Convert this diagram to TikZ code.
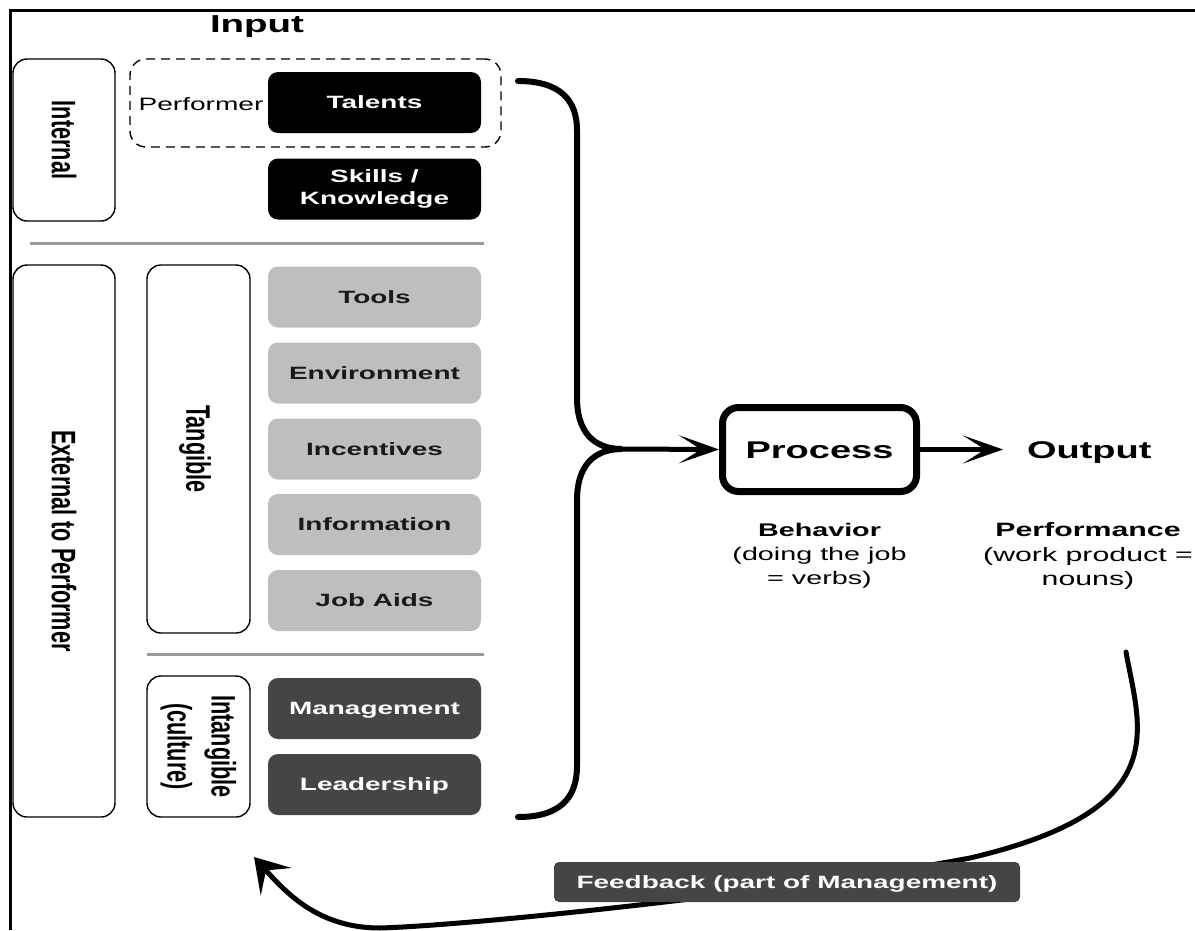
\documentclass[tikz,border=0pt]{standalone}
\usepackage{fontspec}
% wide face for horizontal labels, narrow face for the turned side labels
\setmainfont{Liberation Sans}[FakeStretch=1.57]
\newfontfamily\sidefont{Liberation Sans}[FakeStretch=0.637]
\usetikzlibrary{arrows.meta,calc}
\definecolor{lightbox}{HTML}{BEBEBE}
\definecolor{darkbox}{HTML}{454545}
\definecolor{rulegray}{HTML}{9A9A9A}
\begin{document}
\begin{tikzpicture}[x=1pt,y=-1pt,
  every node/.style={inner sep=0pt, outer sep=0pt},
  frame/.style={line width=3pt, draw=black},
  item/.style={rounded corners=10pt, minimum width=213pt, minimum height=61pt,
    font=\fontsize{17.8}{22}\selectfont\bfseries},
  oneline/.style={text height=12.8pt, text depth=0pt},
  talent/.style={item, fill=black, text=white},
  tangi/.style={item, oneline, fill=lightbox, text=black!90},
  culture/.style={item, oneline, fill=darkbox, text=white},
  sidebox/.style={draw=black, line width=1.4pt, rounded corners=14pt, rotate=-90,
    font=\sidefont\fontsize{34}{44}\selectfont\bfseries},
  sidetext/.style={sidebox, text height=24.5pt, text depth=0pt},
  rule/.style={draw=rulegray, line width=3pt},
  groupbox/.style={draw=black, line width=1.4pt, dash pattern=on 9pt off 6pt, rounded corners=16pt},
  brace/.style={line width=6pt, line cap=round},
  flow/.style={line width=5pt, -{Stealth[length=40pt, width=28pt, inset=22pt]}},
  back/.style={line width=5pt, line cap=round, -{Stealth[length=33pt, width=41pt, inset=15pt]}},
  head/.style={font=\fontsize{24.2}{28}\selectfont\bfseries, text height=17.3pt, text depth=0pt},
  note/.style={align=center, anchor=north}
]
\useasboundingbox (0,0) rectangle (1195,930);

% frame
\draw[frame] (9,10) -- (1195,10);
\draw[frame] (10,9) -- (10,930);

% heading
\node[anchor=base, font=\fontsize{24.5}{28}\selectfont\bfseries] (input) at (257,32) {Input};

% side labels
\node[sidetext, minimum width=162pt, minimum height=102pt] (internal) at (64,140) {Internal};
\node[sidetext, minimum width=552pt, minimum height=102pt] (external) at (64,541) {External to Performer};
\node[sidetext, minimum width=368pt, minimum height=103pt] (tangible) at (198.5,449) {Tangible};
\node[sidebox, minimum width=141pt, minimum height=103pt, align=center] (intangible) at (198.5,746.5) {Intangible\\(culture)};

% performer group
\node[groupbox, minimum width=371pt, minimum height=88pt] (performer) at (315.5,103) {};
\node[anchor=base, font=\fontsize{17.9}{22}\selectfont] (perflabel) at (201,110) {Performer};

% input items
\node[talent, oneline] (talents) at (374.5,102.5) {Talents};
\node[talent, align=center] (skills) at (374.5,189) {Skills /\\Knowledge};
\draw[rule] (30,243) -- (484,243);
\node[tangi] (tools) at (374.5,297) {Tools};
\node[tangi] (environment) at (374.5,373) {Environment};
\node[tangi] (incentives) at (374.5,449) {Incentives};
\node[tangi] (information) at (374.5,524.5) {Information};
\node[tangi] (jobaids) at (374.5,600.5) {Job Aids};
\draw[rule] (147,654) -- (484,654);
\node[culture] (management) at (374.5,708.5) {Management};
\node[culture] (leadership) at (374.5,784.5) {Leadership};

% brace gathering the inputs
\coordinate (btop) at (518,81);
\coordinate (bbot) at (518,817);
\coordinate (cusp) at (622,449);
\draw[brace] (btop) .. controls (560,81) and (577,100) .. (577,130) -- (577,398)
  .. controls (577,430) and (592,449) .. (cusp)
  .. controls (592,449) and (577,468) .. (577,500) -- (577,766)
  .. controls (577,798) and (560,817) .. (bbot);

% process and output
\node[head, draw=black, line width=7pt, outer sep=3.5pt, rounded corners=16pt,
  minimum width=194pt, minimum height=84pt] (process) at (819.5,449.5) {Process};
\node[head, anchor=west] (output) at (1027,449.5) {Output};
\draw[flow] (cusp) -- (process.west);
\draw[flow, shorten >=24pt] (process.east) -- (output.west);

\node[note, font=\fontsize{18.3}{24}\selectfont] (behavior) at (819.5,523)
  {\textbf{Behavior}\\(doing the job\\= verbs)};
\node[note, font=\fontsize{19.3}{24.5}\selectfont] (performance) at (1088,523)
  {\textbf{Performance}\\(work product =\\nouns)};

% feedback loop
\coordinate (fbstart) at (1126,652);
\coordinate (fbend) at (254,857);
\draw[back] (fbstart) .. controls (1140,730) and (1175,810) .. (970,858)
  .. controls (800,890) and (480,925) .. (380,928)
  .. controls (320,928) and (288,895) .. (fbend);
\node[fill=darkbox, text=white, rounded corners=5pt, minimum width=466pt, minimum height=40pt,
  font=\fontsize{17.8}{22}\selectfont\bfseries, text height=12.8pt, text depth=0pt]
  (feedback) at (787,882) {Feedback (part of Management)};
\end{tikzpicture}
\end{document}
